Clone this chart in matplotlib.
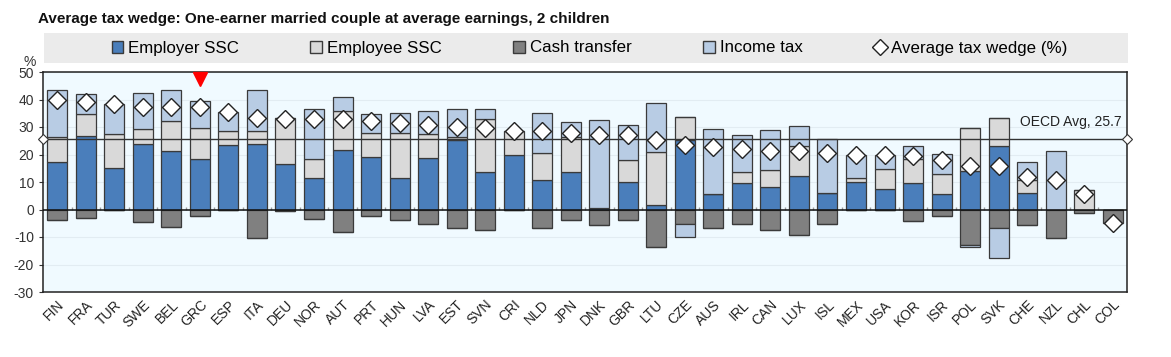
import numpy as np
import matplotlib
matplotlib.use("Agg")
import matplotlib.pyplot as plt
from matplotlib.patches import Rectangle, Patch
from matplotlib.lines import Line2D

plt.rcParams['font.family'] = ['Liberation Sans', 'DejaVu Sans']
plt.rcParams['axes.unicode_minus'] = False

countries = ['FIN', 'FRA', 'TUR', 'SWE', 'BEL', 'GRC', 'ESP', 'ITA', 'DEU', 'NOR',
             'AUT', 'PRT', 'HUN', 'LVA', 'EST', 'SVN', 'CRI', 'NLD', 'JPN', 'DNK',
             'GBR', 'LTU', 'CZE', 'AUS', 'IRL', 'CAN', 'LUX', 'ISL', 'MEX', 'USA',
             'KOR', 'ISR', 'POL', 'SVK', 'CHE', 'NZL', 'CHL', 'COL']
employer_ssc = [17.3, 26.7, 15.0, 23.8, 21.2, 18.2, 23.4, 24.0, 16.7, 11.6,
                21.6, 19.2, 11.5, 18.9, 25.3, 13.8, 20.0, 10.7, 13.5, 0.7,
                10.1, 1.7, 25.2, 5.8, 9.8, 8.2, 12.1, 6.1, 10.1, 7.5,
                9.8, 5.5, 14.1, 23.0, 6.1, 0.0, 0.0, 0.0]
employee_ssc = [8.9, 8.2, 12.6, 5.4, 10.9, 11.4, 5.0, 4.4, 16.5, 6.9,
                14.2, 8.8, 16.4, 8.7, 1.0, 19.2, 8.6, 9.8, 12.7, 0.0,
                8.0, 19.1, 8.3, 0.0, 3.7, 6.0, 10.9, 0.0, 1.2, 7.2,
                8.6, 7.5, 15.4, 10.3, 4.6, 0.0, 7.0, 0.0]
cash_transfer = [-3.9, -3.0, 0.0, -4.7, -6.3, -2.2, 0.0, -10.3, -0.4, -3.5,
                 -8.1, -2.4, -3.9, -5.2, -6.7, -7.3, 0.0, -6.9, -3.9, -5.5,
                 -3.9, -13.8, -5.1, -6.7, -5.3, -7.5, -9.2, -5.2, 0.0, 0.0,
                 -4.0, -2.4, -13.0, -6.7, -5.6, -10.2, -1.2, -4.9]
income_tax = [17.4, 7.0, 10.7, 13.0, 11.5, 9.7, 7.1, 15.2, 0.0, 17.9,
              5.2, 6.8, 7.3, 8.3, 10.4, 3.7, 0.0, 14.7, 5.6, 32.0,
              12.8, 18.1, -4.8, 23.4, 13.7, 14.6, 7.4, 19.7, 8.7, 5.1,
              4.8, 7.2, -0.6, -10.8, 6.6, 21.1, 0.0, 0.0]
tax_wedge = [39.8, 39.0, 38.3, 37.4, 37.3, 37.1, 35.5, 33.2, 32.8, 32.9,
             32.9, 32.2, 31.3, 30.6, 30.0, 29.6, 28.6, 28.4, 27.9, 27.1,
             27.0, 25.2, 23.5, 22.6, 21.9, 21.3, 21.1, 20.5, 19.9, 19.7,
             19.3, 17.9, 15.9, 15.9, 11.8, 10.9, 5.7, -4.9]
oecd_avg = 25.7
highlight = 'GRC'

c_employer = '#4A7EBB'
c_employee = '#D9D9D9'
c_cash = '#808080'
c_income = '#B8CCE4'
edge = '#3A3A3A'

x = np.arange(len(countries))
er = np.array(employer_ssc)
ee = np.array(employee_ssc)
cash = np.array(cash_transfer)
inc = np.array(income_tax)
inc_pos = np.where(inc > 0, inc, 0)
inc_neg = np.where(inc < 0, inc, 0)

fig = plt.figure(figsize=(11.71, 3.57), dpi=100)
ax = fig.add_axes([43 / 1171, 1 - 292 / 357, (1127 - 43) / 1171, 220 / 357])
ax.set_facecolor('#F0FAFF')

w = 0.7
kw = dict(width=w, edgecolor=edge, linewidth=0.9, zorder=3)
ax.bar(x, er, color=c_employer, **kw)
ax.bar(x, ee, bottom=er, color=c_employee, **kw)
ax.bar(x, inc_pos, bottom=er + ee, color=c_income, **kw)
ax.bar(x, cash, color=c_cash, **kw)
ax.bar(x, inc_neg, bottom=cash, color=c_income, **kw)

ax.plot(x, tax_wedge, 'D', ms=9, mfc='white', mec='#222222', mew=1, zorder=5)

ax.set_xlim(-0.5, len(countries) - 0.5)
ax.set_ylim(-30, 50)
ax.set_yticks(range(-30, 51, 10))
for v in range(-20, 51, 10):
    ax.axhline(v, color='#E2ECF2', lw=0.8, zorder=1)
ax.axhline(0, color='#111111', lw=1.1, zorder=4)
ax.vlines(x[:-1] + 0.5, 0, 0.9, color='#999999', lw=1, zorder=2)

ax.plot(ax.get_xlim(), [oecd_avg, oecd_avg], color='#333333', lw=1, zorder=4)
ax.plot(ax.get_xlim(), [oecd_avg, oecd_avg], 'D', ms=5, mfc='white', mec='#333333',
        mew=0.8, clip_on=False, zorder=6, ls='none')
ax.text(37.3, oecd_avg + 3.4, 'OECD Avg, %.1f' % oecd_avg, ha='right', va='bottom',
        fontsize=10, color='#222222')

hi = countries.index(highlight)
ax.plot([x[hi]], [47.3], 'v', color='#FF0000', ms=10, clip_on=False, zorder=6)

ax.set_xticks(x)
ax.set_xticklabels(countries, rotation=45, ha='right', rotation_mode='anchor',
                   fontsize=10, color='#222222')
ax.tick_params(axis='x', length=0, pad=4)
ax.tick_params(axis='y', length=3, labelsize=10, labelcolor='#333333', color='#333333')
for s in ax.spines.values():
    s.set_color('#222222')
    s.set_linewidth(1.1)

ax.text(-0.012, 1.015, '%', transform=ax.transAxes, ha='center', va='bottom',
        fontsize=10, color='#333333')

fig.text(38 / 1171, 1 - 19 / 357, 'Average tax wedge: One-earner married couple at average earnings, 2 children',
         fontsize=11, fontweight='bold', va='center', ha='left', color='#111111')

fig.add_artist(Rectangle((44 / 1171, 1 - 63 / 357), (1128 - 44) / 1171, 30 / 357,
                         transform=fig.transFigure, facecolor='#EBEBEB', edgecolor='none', zorder=0))
handles = [Patch(facecolor=c_employer, edgecolor=edge),
           Patch(facecolor=c_employee, edgecolor=edge),
           Patch(facecolor=c_cash, edgecolor=edge),
           Patch(facecolor=c_income, edgecolor=edge),
           Line2D([], [], marker='D', ls='none', ms=8, mfc='white', mec='#222222')]
labels = ['Employer SSC', 'Employee SSC', 'Cash transfer', 'Income tax', 'Average tax wedge (%)']
fig.legend(handles, labels, loc='center', bbox_to_anchor=((44 + 1128) / 2 / 1171 + 0.003, 1 - 48 / 357),
           ncol=5, frameon=False, fontsize=12.2, columnspacing=4.2, handlelength=0.7,
           handleheight=0.7, handletextpad=0.3, borderpad=0, borderaxespad=0)

fig.savefig('out.png', dpi=100)
